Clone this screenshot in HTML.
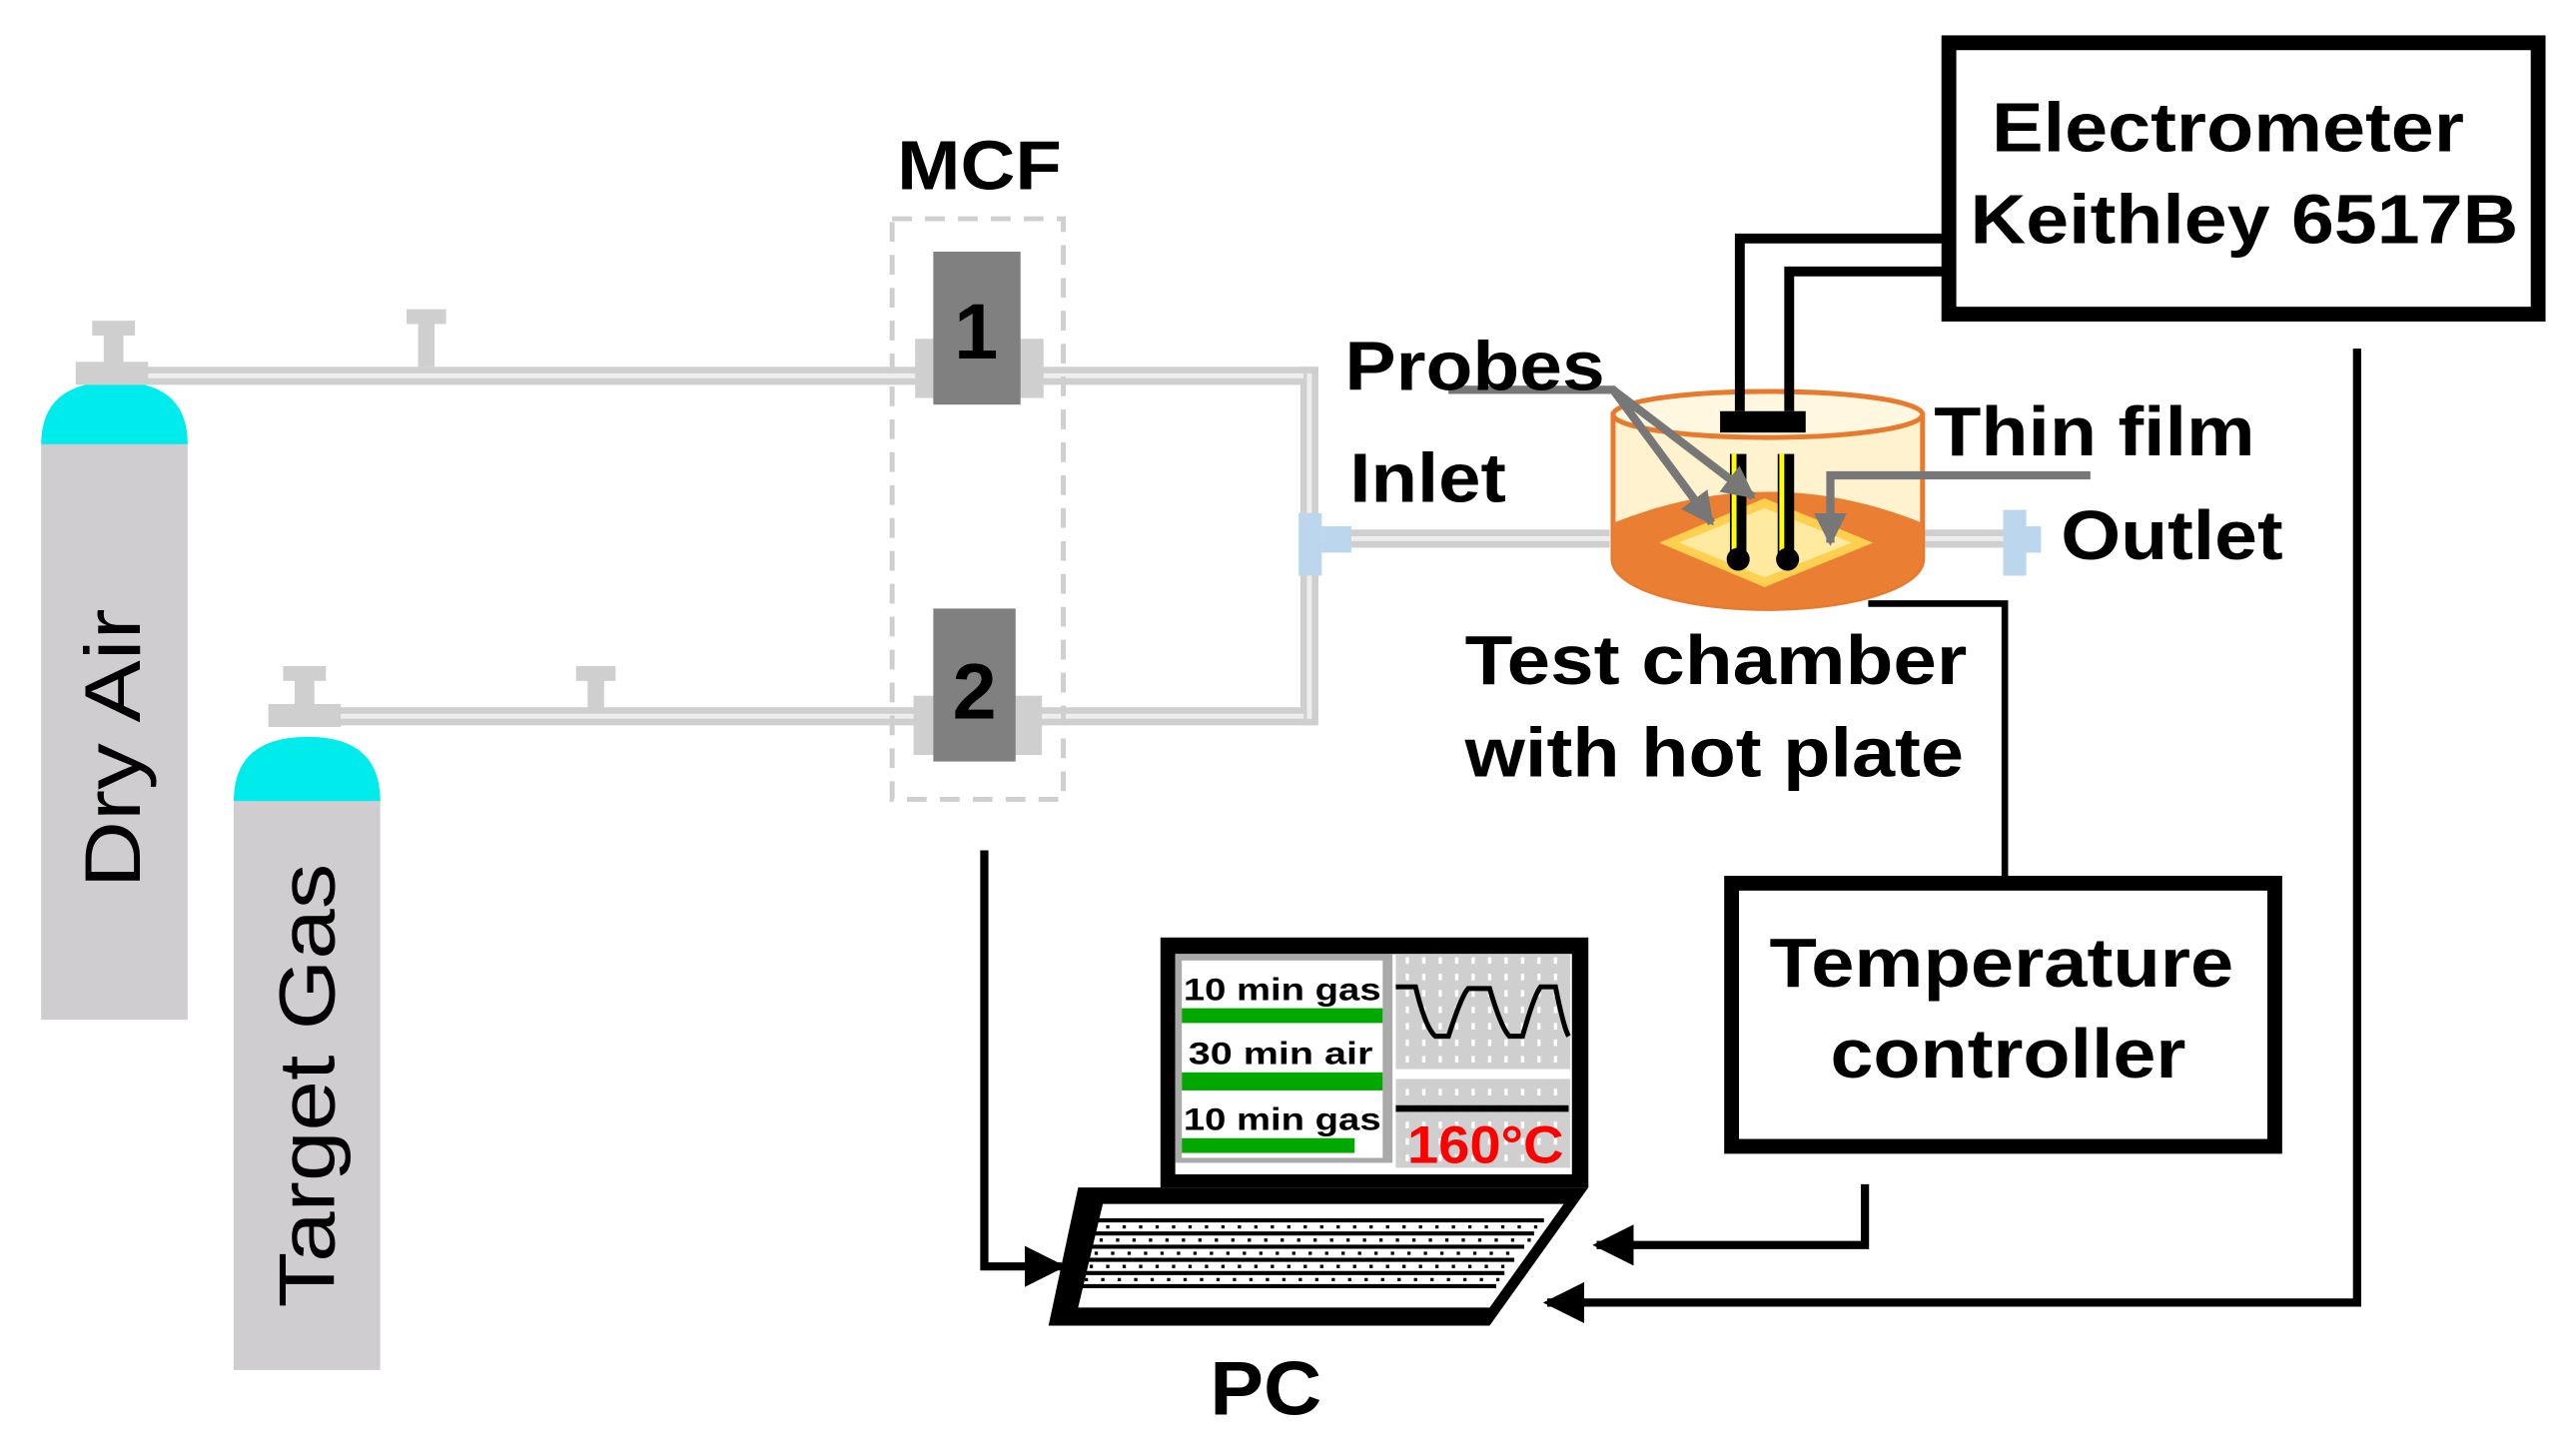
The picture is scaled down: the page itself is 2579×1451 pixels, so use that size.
<!DOCTYPE html>
<html><head><meta charset="utf-8"><style>
html,body{margin:0;padding:0;background:#fff;width:2579px;height:1451px;overflow:hidden}
svg{display:block}
text{font-family:"Liberation Sans",Arial,sans-serif;font-weight:bold}
</style></head><body>
<svg width="2579" height="1451" viewBox="0 0 1565 881" preserveAspectRatio="none" xmlns="http://www.w3.org/2000/svg">
<defs>
<marker id="ah" viewBox="0 0 10 10" refX="9" refY="5" markerWidth="5" markerHeight="5" orient="auto"><path d="M0,0 L10,5 L0,10 z" fill="#000"/></marker>
<marker id="ag" viewBox="0 0 10 10" refX="9" refY="5" markerWidth="4" markerHeight="4" orient="auto"><path d="M0,0 L10,5 L0,10 z" fill="#777"/></marker>
<pattern id="dots" width="10" height="10" patternUnits="userSpaceOnUse"><rect width="10" height="10" fill="#cfcfcf"/><rect x="4" y="2" width="2" height="4" fill="#fff"/></pattern>
</defs>

<!-- pipes -->
<g fill="#cfcfcf">
<rect x="80" y="223" width="720" height="11"/>
<rect x="198" y="430" width="602" height="11"/>
<rect x="790" y="223" width="11" height="218"/>
<rect x="800" y="322" width="178" height="11"/>
<rect x="1165" y="322" width="60" height="11"/>
</g>
<g fill="#eee">
<rect x="80" y="227" width="712" height="3"/>
<rect x="198" y="434" width="594" height="3"/>
<rect x="794" y="227" width="3" height="210"/>
<rect x="800" y="326" width="178" height="3"/>
<rect x="1165" y="326" width="60" height="3"/>
</g>
<g fill="#cfcfcf">
<rect x="247" y="188" width="24" height="9"/><rect x="254" y="195" width="10" height="28"/>
<rect x="350" y="405" width="24" height="9"/><rect x="357" y="412" width="10" height="20"/>
</g>
<rect x="789" y="312" width="14" height="38" fill="#bcd6ee"/>
<rect x="803" y="320" width="18" height="16" fill="#bcd6ee"/>
<rect x="1217" y="310" width="14" height="40" fill="#bcd6ee"/>
<rect x="1228" y="320" width="12" height="16" fill="#bcd6ee"/>

<!-- cylinders -->
<rect x="25" y="268" width="89" height="352" fill="#cfcdcf"/>
<path d="M25,270 Q25,232 70,232 Q114,232 114,270 z" fill="#00ecec"/>
<rect x="56" y="195" width="26" height="9" fill="#cfcfcf"/><rect x="63" y="202" width="12" height="20" fill="#cfcfcf"/>
<rect x="46" y="220" width="44" height="14" fill="#cfcfcf"/>
<text transform="translate(85,540) rotate(-90)" font-size="48" textLength="170" lengthAdjust="spacingAndGlyphs" fill="#000" style="font-weight:normal">Dry Air</text>

<rect x="142" y="485" width="89" height="348" fill="#cfcdcf"/>
<path d="M142,487 Q142,448 187,448 Q231,448 231,487 z" fill="#00ecec"/>
<rect x="172" y="405" width="26" height="9" fill="#cfcfcf"/><rect x="179" y="412" width="12" height="20" fill="#cfcfcf"/>
<rect x="163" y="428" width="44" height="14" fill="#cfcfcf"/>
<text transform="translate(203,795) rotate(-90)" font-size="48" textLength="270" lengthAdjust="spacingAndGlyphs" fill="#000" style="font-weight:normal">Target Gas</text>

<!-- MCF -->
<text x="545" y="115" font-size="42" textLength="100" lengthAdjust="spacingAndGlyphs">MCF</text>
<rect x="542" y="133" width="104" height="353" fill="none" stroke="#cfcfcf" stroke-width="3" stroke-dasharray="12,8"/>
<rect x="556" y="206" width="78" height="36" fill="#cfcfcf"/>
<rect x="567" y="153" width="53" height="93" fill="#808080"/>
<text x="593" y="218" font-size="48" text-anchor="middle">1</text>
<rect x="555" y="423" width="78" height="36" fill="#cfcfcf"/>
<rect x="567" y="370" width="50" height="93" fill="#808080"/>
<text x="592" y="437" font-size="48" text-anchor="middle">2</text>

<!-- chamber -->
<path d="M980,252 L980,340 A94,30 0 0 0 1168,340 L1168,252 z" fill="#fff3cf" stroke="#e87a2e" stroke-width="3"/>
<path d="M980,318 Q1074,280 1168,318 L1168,340 A94,30 0 0 1 980,340 z" fill="#ea7f33"/>
<path d="M1008,330 L1072,303 L1138,330 L1072,357 z" fill="#ffcf4f"/>
<path d="M1020,330 L1072,309 L1125,330 L1072,351 z" fill="#ffeaa0"/>
<ellipse cx="1074" cy="252" rx="94" ry="14" fill="#fff7e0" stroke="#e87a2e" stroke-width="3"/>
<rect x="1051" y="276" width="10" height="62" fill="#000"/><rect x="1052" y="276" width="3" height="60" fill="#ff0"/>
<rect x="1080" y="276" width="10" height="62" fill="#000"/><rect x="1081" y="276" width="3" height="60" fill="#ff0"/>
<circle cx="1056" cy="340" r="7" fill="#000"/><circle cx="1086" cy="340" r="7" fill="#000"/>
<rect x="1045" y="250" width="52" height="13" fill="#000"/>
<polyline points="1057,250 1057,145 1185,145" fill="none" stroke="#000" stroke-width="6"/>
<polyline points="1087,250 1087,165 1185,165" fill="none" stroke="#000" stroke-width="6"/>
<g stroke="#777" stroke-width="5" fill="none">
<polyline points="880,237 980,237 1040,318" marker-end="url(#ag)"/>
<line x1="980" y1="237" x2="1065" y2="302" marker-end="url(#ag)"/>
<polyline points="1270,289 1112,289 1112,330" marker-end="url(#ag)"/>
</g>

<!-- labels -->
<text x="817" y="237" font-size="42" textLength="158" lengthAdjust="spacingAndGlyphs">Probes</text>
<text x="820" y="305" font-size="42" textLength="95" lengthAdjust="spacingAndGlyphs">Inlet</text>
<text x="1175" y="277" font-size="42" textLength="195" lengthAdjust="spacingAndGlyphs">Thin film</text>
<text x="1252" y="340" font-size="42" textLength="135" lengthAdjust="spacingAndGlyphs">Outlet</text>
<text x="890" y="416" font-size="42" textLength="305" lengthAdjust="spacingAndGlyphs">Test chamber</text>
<text x="890" y="472" font-size="42" textLength="303" lengthAdjust="spacingAndGlyphs">with hot plate</text>

<!-- electrometer -->
<rect x="1184" y="26" width="358" height="165" fill="none" stroke="#000" stroke-width="9"/>
<text x="1210" y="92" font-size="42" textLength="287" lengthAdjust="spacingAndGlyphs">Electrometer</text>
<text x="1197" y="148" font-size="42" textLength="333" lengthAdjust="spacingAndGlyphs">Keithley 6517B</text>

<!-- temp controller -->
<rect x="1052" y="537" width="330" height="160" fill="none" stroke="#000" stroke-width="9"/>
<text x="1075" y="600" font-size="42" textLength="282" lengthAdjust="spacingAndGlyphs">Temperature</text>
<text x="1112" y="655" font-size="42" textLength="216" lengthAdjust="spacingAndGlyphs">controller</text>
<polyline points="1135,367 1218,367 1218,535" fill="none" stroke="#000" stroke-width="4"/>

<!-- arrows to PC -->
<polyline points="598,517 598,770 645,770" fill="none" stroke="#000" stroke-width="5" marker-end="url(#ah)"/>
<polyline points="1133,720 1133,757 970,757" fill="none" stroke="#000" stroke-width="5" marker-end="url(#ah)"/>
<polyline points="1432,212 1432,792 940,792" fill="none" stroke="#000" stroke-width="5" marker-end="url(#ah)"/>

<!-- laptop -->
<rect x="705" y="570" width="260" height="152" fill="#000"/>
<rect x="714" y="580" width="241" height="134" fill="#fff"/>
<rect x="714" y="580" width="132" height="127" fill="#aaa"/>
<rect x="718" y="584" width="122" height="120" fill="#fff"/>
<rect x="718" y="613" width="122" height="9" fill="#00a800"/>
<rect x="718" y="652" width="122" height="11" fill="#00a800"/>
<rect x="718" y="692" width="105" height="9" fill="#00a800"/>
<text x="719" y="608" font-size="19" textLength="120" lengthAdjust="spacingAndGlyphs">10 min gas</text>
<text x="722" y="647" font-size="19" textLength="112" lengthAdjust="spacingAndGlyphs">30 min air</text>
<text x="719" y="687" font-size="19" textLength="120" lengthAdjust="spacingAndGlyphs">10 min gas</text>
<rect x="848" y="580" width="106" height="70" fill="url(#dots)"/>
<rect x="848" y="656" width="106" height="54" fill="url(#dots)"/>
<path d="M848,600 L860,600 Q866,625 872,630 L880,630 Q888,605 892,601 L905,601 Q912,625 917,630 L925,630 Q932,605 936,600 L945,600 Q950,625 953,630" fill="none" stroke="#000" stroke-width="3"/>
<rect x="848" y="672" width="105" height="4" fill="#000"/>
<text x="855" y="707" font-size="32" fill="#f00" textLength="95" lengthAdjust="spacingAndGlyphs">160°C</text>
<path d="M655,722 L965,722 L905,806 L637,806 z" fill="#000"/>
<path d="M670,732 L950,732 L905,795 L655,795 z" fill="#fff"/>
<g stroke="#000" stroke-width="2.5">
<line x1="667" y1="742" x2="938" y2="742"/><line x1="664" y1="750" x2="932" y2="750"/>
<line x1="660" y1="758" x2="926" y2="758"/><line x1="657" y1="766" x2="920" y2="766"/>
<line x1="654" y1="774" x2="914" y2="774"/><line x1="651" y1="782" x2="909" y2="782"/>
</g>
<g stroke="#000" stroke-width="2" stroke-dasharray="2,8">
<line x1="662" y1="746" x2="936" y2="746"/><line x1="658" y1="754" x2="930" y2="754"/>
<line x1="655" y1="762" x2="924" y2="762"/><line x1="652" y1="770" x2="918" y2="770"/>
<line x1="649" y1="778" x2="912" y2="778"/>
</g>
<text x="735" y="860" font-size="46" textLength="68" lengthAdjust="spacingAndGlyphs">PC</text>
</svg>
</body></html>
